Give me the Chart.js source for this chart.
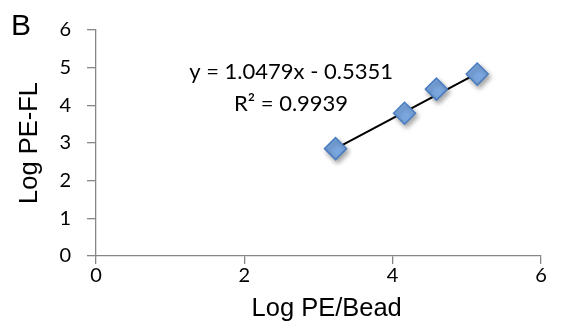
<!DOCTYPE html>
<html>
<head>
<meta charset="utf-8">
<script src="https://cdn.jsdelivr.net/npm/chart.js@4.4.1/dist/chart.umd.min.js"></script>
<style>
  html, body { margin: 0; padding: 0; background: #ffffff; }
  #wrap { width: 562px; height: 336px; }
</style>
</head>
<body>
<div id="wrap"><canvas id="chart" width="562" height="336"></canvas></div>
<script>
// Log PE per bead vs. log PE fluorescence
const logPEPerBead = [3.23, 4.16, 4.59, 5.14];
const logPEFL = [2.85, 3.79, 4.43, 4.83];

// Linear fit shown on the plot
const slope = 1.0479;
const intercept = -0.5351;
const rSquared = 0.9939;

const xTicks = [0, 2, 4, 6];
const yTicks = [0, 1, 2, 3, 4, 5, 6];

const panelLabel = 'B';
const xTitle = 'Log PE/Bead';
const yTitle = 'Log PE-FL';

const points = logPEPerBead.map((x, i) => ({ x: x, y: logPEFL[i] }));
const xMin = Math.min(...logPEPerBead);
const xMax = Math.max(...logPEPerBead);
const fitLine = [xMin, xMax].map(x => ({ x: x, y: slope * x + intercept }));

const eqText = 'y = ' + slope.toFixed(4) + 'x - ' + Math.abs(intercept).toFixed(4);
const r2Text = 'R\u00B2 = ' + rSquared.toFixed(4);

const axisGrey = '#868686';
const tickFont = { family: 'Lato, "Open Sans", sans-serif', size: 20 };
const titleFont = { family: '"Liberation Sans", Arial, sans-serif', size: 25.5 };

// Soft drop shadow under the diamond markers
const markerShadow = {
  id: 'markerShadow',
  beforeDatasetDraw(chart, args) {
    if (args.index === 1) {
      const ctx = chart.ctx;
      ctx.save();
      ctx.shadowColor = 'rgba(0,0,0,0.35)';
      ctx.shadowBlur = 5;
      ctx.shadowOffsetX = 2;
      ctx.shadowOffsetY = 3;
    }
  },
  afterDatasetDraw(chart, args) {
    if (args.index === 1) chart.ctx.restore();
  }
};

// Panel letter, x-axis title and fit equation
const annotations = {
  id: 'annotations',
  afterDraw(chart) {
    const ctx = chart.ctx;
    const xs = chart.scales.x, ys = chart.scales.y;
    ctx.save();
    ctx.fillStyle = '#000000';
    ctx.textBaseline = 'alphabetic';
    ctx.font = '30px "Liberation Sans", Arial, sans-serif';
    ctx.textAlign = 'left';
    ctx.fillText(panelLabel, 11, 35);

    ctx.font = titleFont.size + 'px ' + titleFont.family;
    ctx.textAlign = 'center';
    ctx.fillText(xTitle, xs.getPixelForValue(3.11), 316);

    ctx.textBaseline = 'middle';
    ctx.font = '22px Lato, "Open Sans", sans-serif';
    const cx = xs.getPixelForValue(2.63);
    ctx.fillText(eqText, cx, ys.getPixelForValue(4.9));
    ctx.fillText(r2Text, cx, ys.getPixelForValue(4.05));
    ctx.restore();
  }
};

new Chart(document.getElementById('chart'), {
  type: 'scatter',
  data: {
    datasets: [
      {
        type: 'line',
        data: fitLine,
        borderColor: '#000000',
        borderWidth: 2,
        pointRadius: 0,
        fill: false,
        order: 2
      },
      {
        data: points,
        pointStyle: 'rectRot',
        pointRadius: 11,
        pointHoverRadius: 11,
        backgroundColor: '#7ba7e0',
        borderColor: '#4a7dc0',
        borderWidth: 1.5,
        order: 1
      }
    ]
  },
  plugins: [markerShadow, annotations],
  options: {
    responsive: false,
    animation: false,
    events: [],
    layout: { padding: { top: 30, right: 21, bottom: 0, left: 0 } },
    plugins: {
      legend: { display: false },
      tooltip: { enabled: false }
    },
    scales: {
      x: {
        type: 'linear',
        min: 0,
        max: 6,
        afterBuildTicks: s => { s.ticks = xTicks.map(v => ({ value: v })); },
        ticks: { color: '#000000', font: tickFont, padding: 0 },
        grid: { display: true, drawOnChartArea: false, drawTicks: true, tickLength: 8, color: axisGrey, lineWidth: 1.3 },
        border: { color: axisGrey, width: 1.3 },
        title: { display: false },
        afterFit: s => { s.height = 80; }
      },
      y: {
        type: 'linear',
        min: 0,
        max: 6,
        afterBuildTicks: s => { s.ticks = yTicks.map(v => ({ value: v })); },
        ticks: { color: '#000000', font: tickFont, padding: 16 },
        grid: { display: true, drawOnChartArea: false, drawTicks: true, tickLength: 9, color: axisGrey, lineWidth: 1.3 },
        border: { color: axisGrey, width: 1.3 },
        title: { display: true, text: yTitle, color: '#000000', font: titleFont, padding: { top: 15, bottom: 0 } },
        afterFit: s => { s.height; s.width = 96; }
      }
    }
  }
});
</script>
</body>
</html>
